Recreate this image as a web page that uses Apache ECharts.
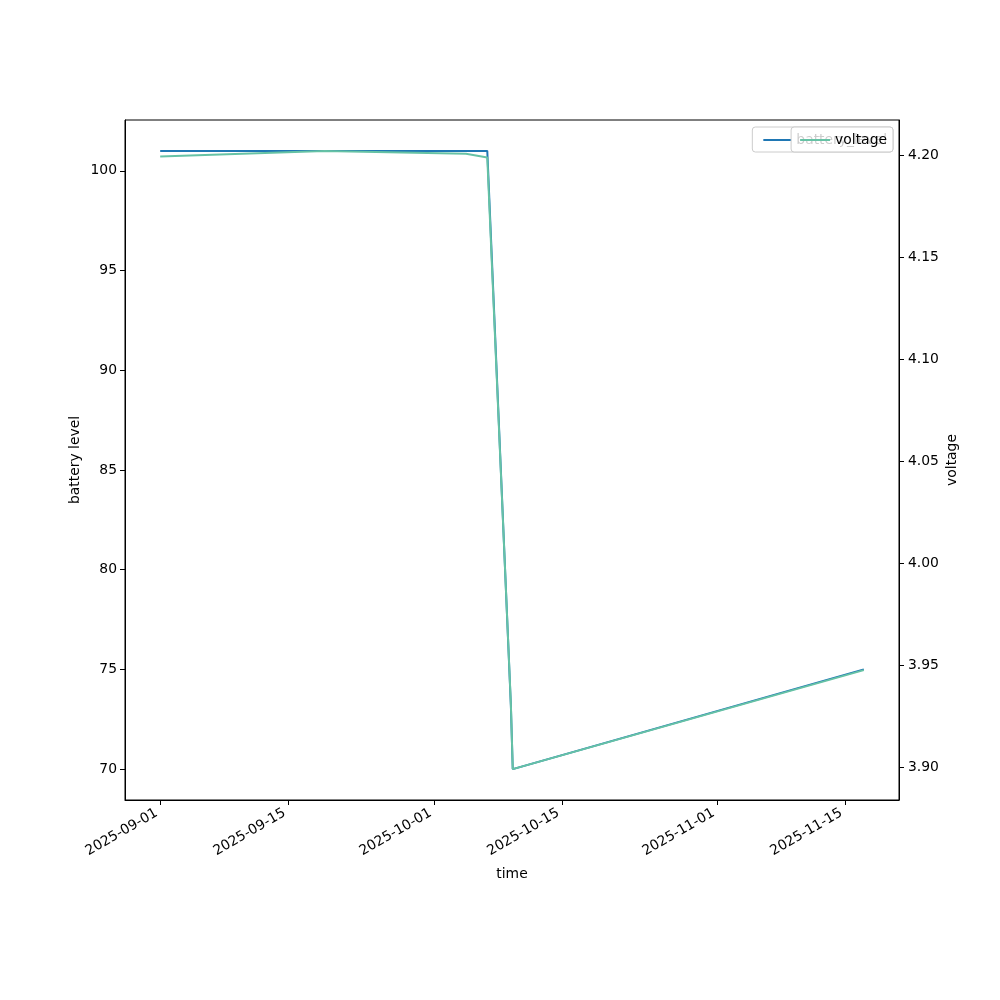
<!DOCTYPE html>
<html>
<head>
<meta charset="utf-8">
<script src="https://cdn.jsdelivr.net/npm/echarts@6/dist/echarts.min.js"></script>
<style>
html,body{margin:0;padding:0;background:#fff;}
#chart{width:1000px;height:1000px;}
</style>
</head>
<body>
<div id="chart"></div>
<script>
// ---- data ----
const batteryTimes = ['2025-09-01 00:00', '2025-10-06 20:00', '2025-10-09 10:00', '2025-10-09 15:00', '2025-11-17 02:00'];
const batteryLevels = [101, 101, 73.2, 70, 75];

const voltageTimes = ['2025-09-01 00:00', '2025-09-19 00:00', '2025-10-04 12:00', '2025-10-06 20:00', '2025-10-09 10:00', '2025-10-09 15:00', '2025-11-17 02:00'];
const voltageValues = [4.1993, 4.2020, 4.2006, 4.1988, 3.931, 3.899, 3.9475];

const xTickLabels = ['2025-09-01', '2025-09-15', '2025-10-01', '2025-10-15', '2025-11-01', '2025-11-15'];
const leftTicks = [70, 75, 80, 85, 90, 95, 100];
const rightTicks = [3.90, 3.95, 4.00, 4.05, 4.10, 4.15, 4.20];

const seriesNames = ['battery_level', 'voltage'];
const axisNames = { x: 'time', left: 'battery level', right: 'voltage' };

// ---- helpers ----
function toTs(s) {
  const [d, t] = s.split(' ');
  const [y, m, dd] = d.split('-').map(Number);
  const [hh, mm] = (t || '00:00').split(':').map(Number);
  return new Date(y, m - 1, dd, hh, mm).getTime();
}
function pad(n) { return (n < 10 ? '0' : '') + n; }
function fmtDate(v) {
  const d = new Date(v);
  return d.getFullYear() + '-' + pad(d.getMonth() + 1) + '-' + pad(d.getDate());
}
function withMargin(arr) {
  const lo = Math.min(...arr), hi = Math.max(...arr), m = (hi - lo) * 0.05;
  return [lo - m, hi + m];
}

const bT = batteryTimes.map(toTs);
const vT = voltageTimes.map(toTs);
const allT = bT.concat(vT);
const xr = withMargin(allT);
const yl = withMargin(batteryLevels);
const yr = withMargin(voltageValues);
const xTickValues = xTickLabels.map(s => toTs(s + ' 00:00'));

const FONT = 'DejaVu Sans';
const FS = 13.9;

const chart = echarts.init(document.getElementById('chart'), null, { renderer: 'canvas' });

const legendCommon = {
  orient: 'horizontal',
  right: 107,
  top: 127,
  itemHeight: 2,
  itemGap: 0,
  itemStyle: { borderWidth: 0 },
  icon: 'rect',
  backgroundColor: 'rgba(255,255,255,0.8)',
  borderColor: '#cccccc',
  borderWidth: 1,
  borderRadius: 3,
  textStyle: { fontFamily: FONT, fontSize: FS, color: '#000' },
  selectedMode: false
};

chart.setOption({
  animation: false,
  backgroundColor: '#fff',
  grid: {
    left: 125, right: 101, top: 120, bottom: 200,
    show: true, borderColor: '#000', borderWidth: 1, backgroundColor: 'transparent'
  },
  legend: [
    Object.assign({}, legendCommon, { data: [seriesNames[0]], itemWidth: 28, itemTextGap: 12, padding: [6, 6, 5, 11], z: 10 }),
    Object.assign({}, legendCommon, { data: [seriesNames[1]], itemWidth: 30, itemTextGap: 10, padding: [6, 6, 5, 9], z: 11 })
  ],
  xAxis: {
    type: 'value',
    min: xr[0], max: xr[1],
    name: axisNames.x,
    nameLocation: 'middle',
    nameGap: 67,
    nameTextStyle: { fontFamily: FONT, fontSize: FS, color: '#000' },
    axisLine: { show: true, lineStyle: { color: '#000', width: 1 } },
    axisTick: { show: true, length: 5, inside: false, customValues: xTickValues, lineStyle: { color: '#000' } },
    axisLabel: {
      customValues: xTickValues,
      rotate: 30,
      margin: 10,
      padding: [0, 4, 0, 0],
      fontFamily: FONT, fontSize: FS, color: '#000',
      formatter: v => fmtDate(v)
    },
    splitLine: { show: false }
  },
  yAxis: [
    {
      type: 'value',
      position: 'left',
      min: yl[0], max: yl[1],
      name: axisNames.left,
      nameLocation: 'middle',
      nameRotate: 90,
      nameGap: 43,
      nameMoveOverlap: false,
      nameTextStyle: { fontFamily: FONT, fontSize: FS, color: '#000' },
      axisLine: { show: true, lineStyle: { color: '#000', width: 1 } },
      axisTick: { show: true, length: 5, customValues: leftTicks, lineStyle: { color: '#000' } },
      axisLabel: {
        customValues: leftTicks, margin: 8,
        fontFamily: FONT, fontSize: FS, color: '#000',
        formatter: v => String(Math.round(v))
      },
      splitLine: { show: false }
    },
    {
      type: 'value',
      position: 'right',
      min: yr[0], max: yr[1],
      name: axisNames.right,
      nameLocation: 'middle',
      nameRotate: 90,
      nameGap: 46,
      nameMoveOverlap: false,
      nameTextStyle: { fontFamily: FONT, fontSize: FS, color: '#000' },
      axisLine: { show: true, lineStyle: { color: '#000', width: 1 } },
      axisTick: { show: true, length: 5, customValues: rightTicks, lineStyle: { color: '#000' } },
      axisLabel: {
        customValues: rightTicks, margin: 9,
        fontFamily: FONT, fontSize: FS, color: '#000',
        formatter: v => v.toFixed(2)
      },
      splitLine: { show: false }
    }
  ],
  series: [
    {
      name: seriesNames[0],
      type: 'line',
      yAxisIndex: 0,
      symbol: 'none',
      color: '#1f77b4',
      lineStyle: { width: 2, color: '#1f77b4' },
      data: bT.map((t, i) => [t, batteryLevels[i]]),
      z: 2
    },
    {
      name: seriesNames[1],
      type: 'line',
      yAxisIndex: 1,
      symbol: 'none',
      color: '#66c2a5',
      lineStyle: { width: 2, color: '#66c2a5' },
      data: vT.map((t, i) => [t, voltageValues[i]]),
      z: 3
    }
  ]
});
</script>
</body>
</html>
